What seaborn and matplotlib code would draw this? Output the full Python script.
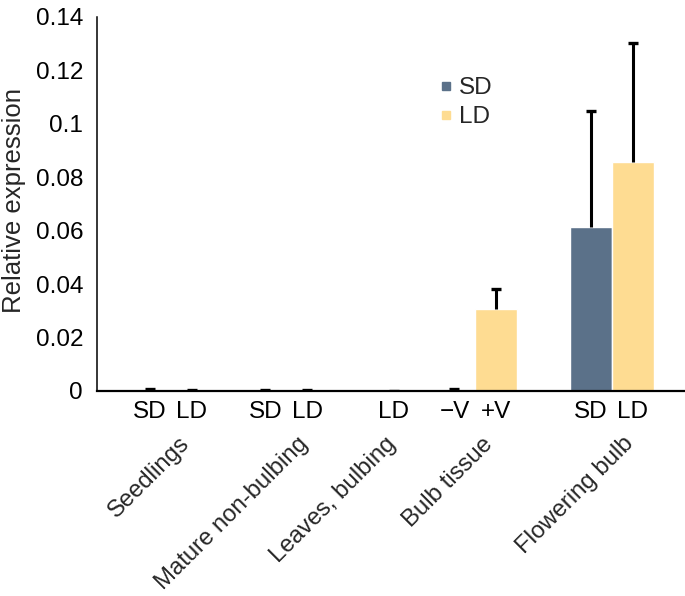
import numpy as np
import pandas as pd
import matplotlib.pyplot as plt
from matplotlib.lines import Line2D
import seaborn as sns

###################################################################################
# Data

bar_labels = ['SD', 'LD', 'SD', 'LD', 'LD', '\u2212V', '+V', 'SD', 'LD']
bar_series = ['SD', 'LD', 'SD', 'LD', 'LD', 'SD', 'LD', 'SD', 'LD']
bar_values = [0.0003, 0.0001, 0.0001, 0.0001, 0.0, 0.0003, 0.0305, 0.0615, 0.0859]
bar_errors = [0.0003, 0.0001, 0.0001, 0.0001, 0.0, 0.0003, 0.0077, 0.0433, 0.0443]

groups = ['Seedlings', 'Mature non-bulbing', 'Leaves, bulbing', 'Bulb tissue', 'Flowering bulb']

# layout: slot positions of bars (one bar = one unit wide) and of the group labels
bar_pos = [0, 1, 2.75, 3.75, 5.8, 7.25, 8.25, 10.5, 11.5]
group_pos = [0.68, 3.5, 5.6, 7.9, 11.26]

colors = {'SD': '#5b7189', 'LD': '#fedc92'}

df = pd.DataFrame({'pos': bar_pos, 'value': bar_values, 'series': bar_series})

###################################################################################
# Plot

sns.set_style('white')
plt.rcParams['font.family'] = ['Liberation Sans', 'DejaVu Sans']
fs = 17.5

fig = plt.figure(figsize=(6.85, 5.96), dpi=100)
ax = fig.add_axes([0.1416, 0.344, 0.8584, 0.6275])

sns.barplot(data=df, x='pos', y='value', hue='series', palette=colors,
            native_scale=True, width=1, dodge=False, errorbar=None,
            saturation=1, legend=False, ax=ax)

# upper error bars only
eb = ax.errorbar(bar_pos, bar_values, yerr=[np.zeros(len(bar_errors)), bar_errors],
                 fmt='none', ecolor='black', elinewidth=2.2, capsize=3.5, capthick=2.4)
eb[1][0].set_visible(False)

ax.set_xlim(-1.26, 12.74)
ax.set_ylim(0, 0.14)
ax.set_yticks(np.arange(0, 0.141, 0.02))
ax.set_yticklabels(['0', '0.02', '0.04', '0.06', '0.08', '0.1', '0.12', '0.14'])
ax.set_xticks(bar_pos)
ax.set_xticklabels(bar_labels)
ax.tick_params(axis='both', length=0, labelsize=fs, colors='black')
ax.tick_params(axis='x', pad=7.5)
ax.tick_params(axis='y', pad=10)
ax.set_xlabel('')
ax.set_ylabel('Relative expression', fontsize=18.5)
ax.yaxis.set_label_coords(-0.121, 0.508)

sns.despine(ax=ax)
ax.spines['left'].set_linewidth(1.1)
ax.spines['bottom'].set_linewidth(1.6)
ax.spines['left'].set_color('black')
ax.spines['bottom'].set_color('black')

trans = ax.get_xaxis_transform()
for g, p in zip(groups, group_pos):
    ax.text(p, -0.112, g, rotation=45, ha='right', va='top', rotation_mode='anchor',
            fontsize=17.2, transform=trans)

handles = [Line2D([], [], marker='s', linestyle='none', markersize=6,
                  markerfacecolor=colors[k], markeredgecolor=colors[k], label=k)
           for k in ['SD', 'LD']]
ax.legend(handles=handles, loc='upper left', bbox_to_anchor=(0.643, 0.870),
          bbox_transform=fig.transFigure, frameon=False, fontsize=fs,
          handlelength=0.45, handletextpad=0.3, labelspacing=0.28,
          borderpad=0, borderaxespad=0)

fig.savefig('out.png', dpi=100)
